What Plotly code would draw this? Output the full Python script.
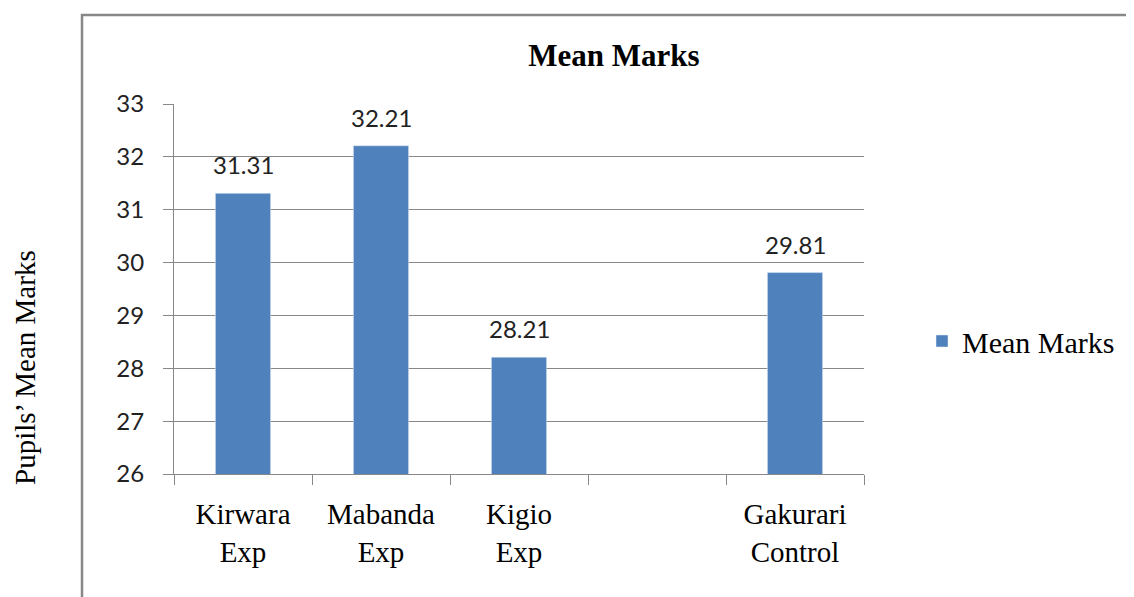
import plotly.graph_objects as go

categories = ["Kirwara<br>Exp", "Mabanda<br>Exp", "Kigio<br>Exp", " ", "Gakurari<br>Control"]
values = [31.31, 32.21, 28.21, None, 29.81]
labels = ["31.31", "32.21", "28.21", "", "29.81"]
y_ticks = [26, 27, 28, 29, 30, 31, 32, 33]

W, H = 1134, 597
OFF = 8  # page offset of the figure in the screenshot
pw, ph = 690, 370
L, T = 174 - OFF, 104 - OFF
R, B = W - L - pw, H - T - ph

def px_x(x):
    return (x - OFF - L) / pw

def px_y(y):
    return (T + ph - (y - OFF)) / ph

fig = go.Figure()
fig.add_trace(go.Bar(
    x=categories, y=values, name="Mean Marks",
    marker=dict(color="#4F81BD"),
    showlegend=True,
))

for c, v, t in zip(categories, values, labels):
    if v is None:
        continue
    fig.add_annotation(x=c, y=v, text=t, showarrow=False, yanchor="bottom",
                       yshift=12, xref="x", yref="y",
                       font=dict(family="Lato", size=24, color="#222222"))

fig.update_layout(
    width=W, height=H,
    margin=dict(l=L, r=R, t=T, b=B),
    paper_bgcolor="white", plot_bgcolor="white",
    bargap=0.6,
    title=dict(text="<b>Mean Marks</b>", x=(614 - OFF) / W, xanchor="center",
               y=1 - (55 - OFF) / H, yanchor="middle",
               font=dict(family="Liberation Serif", size=31, color="black")),
    xaxis=dict(
        showline=True, linecolor="#888888", linewidth=1,
        ticks="outside", tickson="boundaries", ticklen=10, tickcolor="#888888",
        tickfont=dict(family="Liberation Serif", size=29, color="black"),
        ticklabelstandoff=14,
        showgrid=False,
    ),
    yaxis=dict(
        range=[26, 33], tickvals=y_ticks,
        showline=True, linecolor="#888888", linewidth=1,
        ticks="outside", ticklen=10, tickcolor="#888888",
        gridcolor="#888888", gridwidth=1,
        tickfont=dict(family="Lato", size=24, color="#222222"),
        ticklabelstandoff=14,
        zeroline=False,
    ),
    legend=dict(x=px_x(922), y=px_y(341), xanchor="left", yanchor="middle",
                font=dict(family="Liberation Serif", size=30, color="black"),
                bgcolor="rgba(0,0,0,0)"),
)

fig.add_shape(type="rect", xref="paper", yref="paper",
              x0=px_x(82), x1=px_x(1160), y0=px_y(620), y1=px_y(15),
              line=dict(color="#888888", width=2.5), layer="below")

fig.add_annotation(text="Pupils’ Mean Marks", xref="paper", yref="paper",
                   x=px_x(25), y=px_y(368), textangle=-90, showarrow=False,
                   xanchor="center", yanchor="middle",
                   font=dict(family="Liberation Serif", size=29, color="black"))

fig.write_html("out.html")
